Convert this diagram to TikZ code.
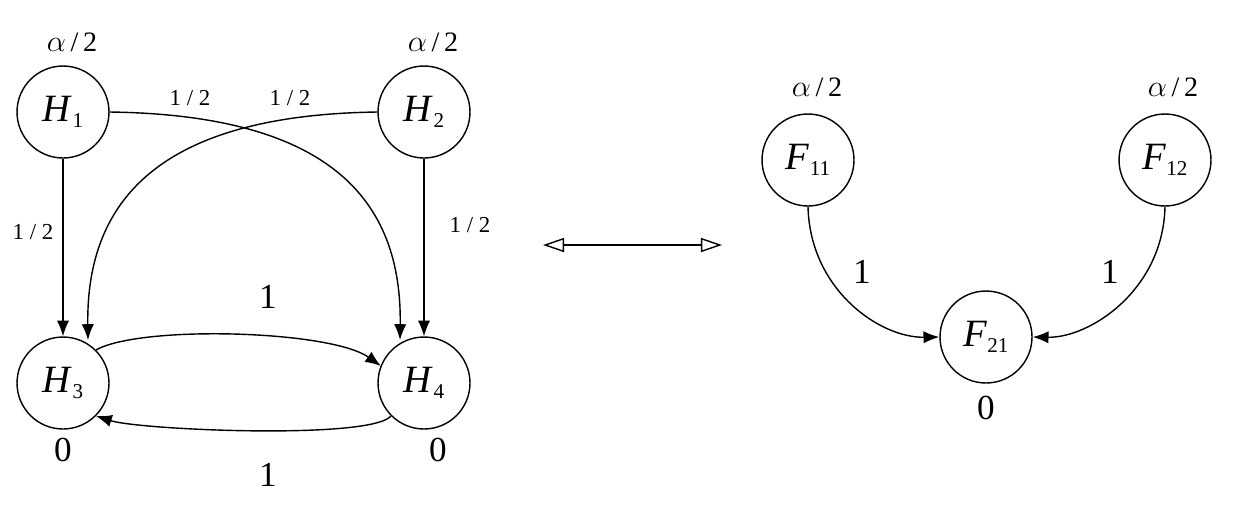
\documentclass[tikz,border=0pt]{standalone}
\usepackage{fontspec}
\setmainfont{Liberation Serif}
\usetikzlibrary{arrows.meta}
\newcommand{\nm}[2]{\textit{#1}\raisebox{-0.35ex}{\fontsize{12}{14}\selectfont #2}}
\begin{document}
\begin{tikzpicture}[x=0.02cm,y=-0.02cm,
  st/.style={circle,draw,thick,minimum size=1.84cm,inner sep=0pt,font=\fontsize{22}{24}\selectfont},
  ed/.style={-{Latex[length=9pt,width=7pt]},thick},
  sm/.style={font=\fontsize{13}{15}\selectfont},
  al/.style={font=\fontsize{16}{18}\selectfont},
  big/.style={font=\fontsize{20}{22}\selectfont}]
\useasboundingbox (0,0) rectangle (1236,505);
\node[st] (H1) at (63,112) {\nm{H}{1}};
\node[st] (H2) at (424,112) {\nm{H}{2}};
\node[st] (H3) at (63,383) {\nm{H}{3}};
\node[st] (H4) at (424,383) {\nm{H}{4}};
\node[st] (F11) at (808,160) {\nm{F}{11}};
\node[st] (F12) at (1165,160) {\nm{F}{12}};
\node[st] (F21) at (986,337) {\nm{F}{21}};
\node[al] (a1) at (72,42) {$\alpha$\,/\,2};
\node[al] (a2) at (433,42) {$\alpha$\,/\,2};
\node[al] (a3) at (817,87) {$\alpha$\,/\,2};
\node[al] (a4) at (1173,87) {$\alpha$\,/\,2};
\node[big] (z1) at (63,450) {0};
\node[big] (z2) at (438,450) {0};
\node[big] (z3) at (986,408) {0};
\draw[ed] (H1) -- (H3);
\node[sm] (l0) at (33,232) {1 / 2};
\draw[ed] (H2) -- (H4);
\node[sm] (l00) at (470,225) {1 / 2};
\draw[ed] (H1.east) .. controls (330,115) and (402,200) .. (400,340);
\node[sm] (l1) at (190,98) {1 / 2};
\draw[ed] (H2.west) .. controls (160,115) and (86,200) .. (88,340);
\node[sm] (l2) at (290,98) {1 / 2};
\draw[ed] (H3.north east) .. controls (140,325) and (330,330) .. (381,366);
\node[big] (l3) at (268,297) {1};
\draw[ed] (H4.south west) .. controls (370,440) and (140,430) .. (H3.south east);
\node[big] (l4) at (268,475) {1};
\draw[thick,{Triangle[open,length=12pt,width=8pt]}-{Triangle[open,length=12pt,width=8pt]}] (543,245) coordinate (d1) -- (722,245) coordinate (d2);
\draw[ed] (F11.south) .. controls (810,290) and (880,338) .. (F21.west);
\node[big] (l5) at (862,272) {1};
\draw[ed] (F12.south) .. controls (1163,290) and (1090,338) .. (F21.east);
\node[big] (l6) at (1110,272) {1};
\end{tikzpicture}
\end{document}
